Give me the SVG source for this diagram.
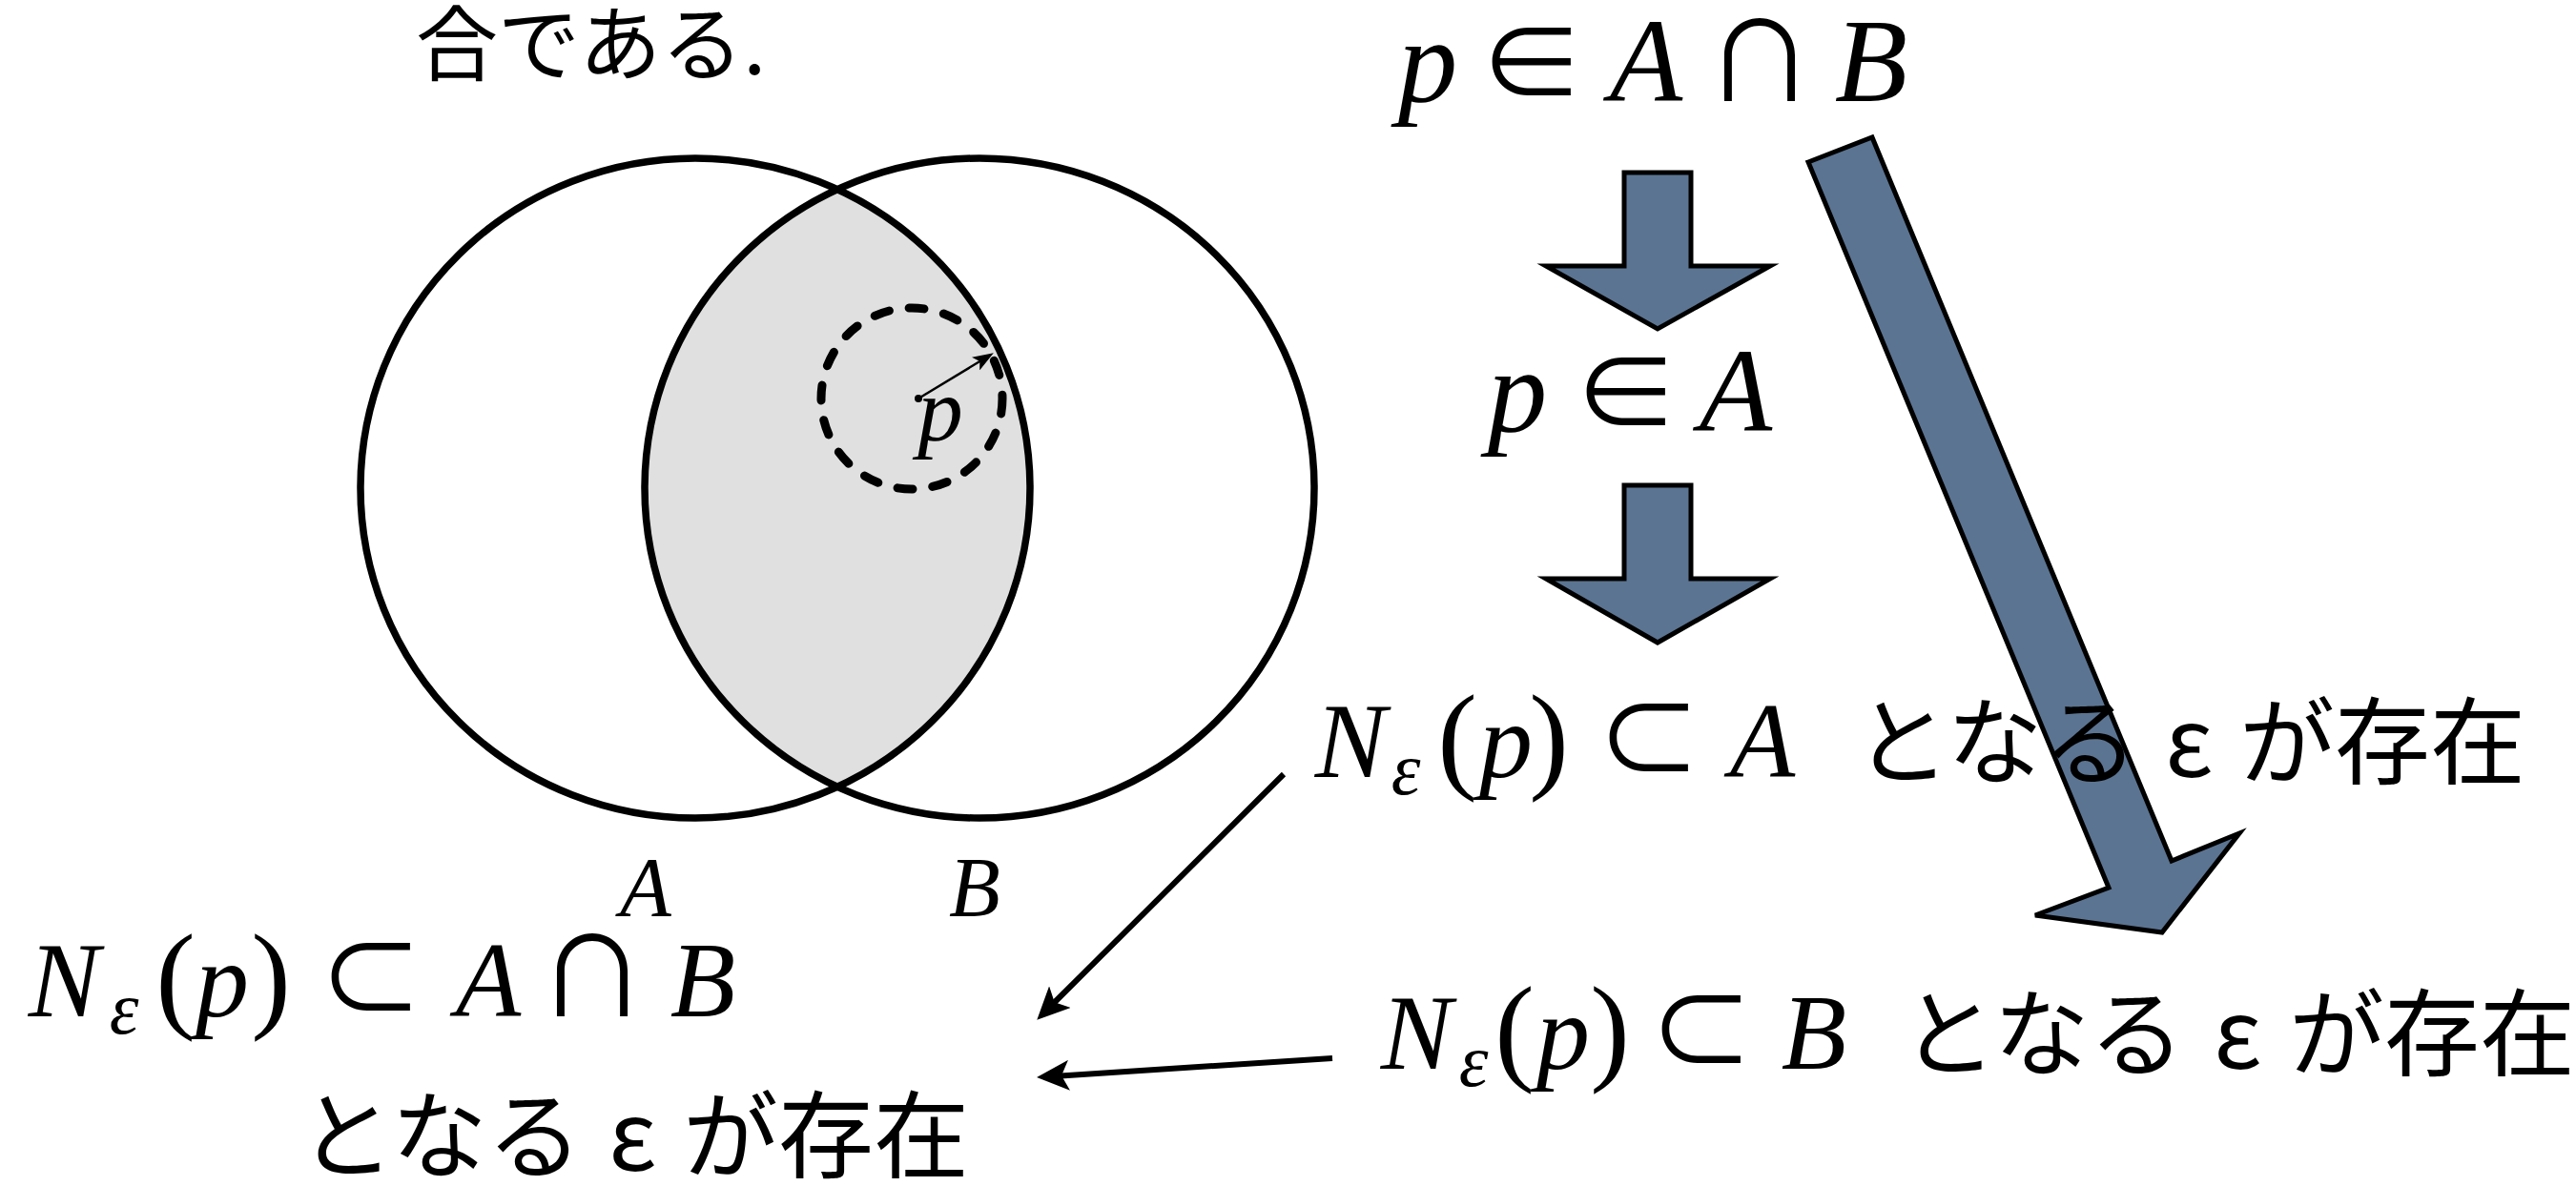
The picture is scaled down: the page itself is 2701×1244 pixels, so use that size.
<svg xmlns="http://www.w3.org/2000/svg" width="2701" height="1244" viewBox="0 0 2701 1244">
<style>
.m{font-family:"Liberation Serif","Times New Roman",serif;font-style:italic;text-anchor:middle;fill:#000}
.r{font-family:"Liberation Serif","Times New Roman",serif;text-anchor:middle;fill:#000}
.s{font-family:"Noto Sans CJK JP","DejaVu Sans",sans-serif;text-anchor:middle;fill:#000}
.jp{font-family:"Noto Sans CJK JP","Noto Sans",sans-serif;fill:#000}
.jm{font-family:"Noto Sans CJK JP","Noto Sans",sans-serif;text-anchor:middle;fill:#000}
.venn{fill:none;stroke:#000;stroke-width:7.5}
.block{fill:#5B7492;stroke:#000;stroke-width:5;stroke-linejoin:miter}
.thin{fill:none;stroke:#000;stroke-width:6}
</style>
<defs>
<clipPath id="clipA"><ellipse cx="729" cy="512" rx="351" ry="346"/></clipPath>
<marker id="ah" markerUnits="userSpaceOnUse" viewBox="0 0 34 32" markerWidth="34" markerHeight="32" refX="9" refY="16" orient="auto"><path d="M0,0 L34,16 L0,32 L8,16 Z" fill="#000"/></marker>
<marker id="ahs" markerUnits="userSpaceOnUse" viewBox="0 0 22 16" markerWidth="22" markerHeight="16" refX="7" refY="8" orient="auto"><path d="M0,0 L22,8 L0,16 L5,8 Z" fill="#000"/></marker>
</defs>
<rect width="2701" height="1244" fill="#fff"/>

<g id="title"><text class="jp" x="436" y="78" font-size="86">合である.</text></g>

<g id="venn">
<ellipse cx="1027" cy="512" rx="351" ry="346" fill="#E0E0E0" clip-path="url(#clipA)"/>
<ellipse class="venn" cx="729" cy="512" rx="351" ry="346"/>
<ellipse class="venn" cx="1027" cy="512" rx="351" ry="346"/>
<circle cx="956" cy="418" r="95" fill="none" stroke="#000" stroke-width="9" stroke-dasharray="16 21" stroke-linecap="round"/>
<line x1="963" y1="418" x2="1029" y2="378" stroke="#000" stroke-width="2.5" marker-end="url(#ahs)"/>
<circle cx="963" cy="418" r="4" fill="#000"/>
<text class="m" x="986" y="462" font-size="95">p</text>
</g>
<g id="label-A"><text class="m" x="677" y="960" font-size="88">A</text></g>
<g id="label-B"><text class="m" x="1022" y="960" font-size="88">B</text></g>

<g id="connectors">
<polygon class="block" points="1703,181 1773,181 1773,279 1856,279 1738,345 1621,279 1703,279"/>
<polygon class="block" points="1703,509 1773,509 1773,607 1856,607 1738,674 1621,607 1703,607"/>
<polygon class="block" points="1896,170 1963,144 2277,903 2348,874 2267,978 2134,960 2211,931"/>
<line class="thin" x1="1346" y1="812" x2="1105" y2="1052" marker-end="url(#ah)"/>
<line class="thin" x1="1397" y1="1110" x2="1112" y2="1128.4" marker-end="url(#ah)"/>
</g>

<g id="expr-top" font-size="125">
<text class="m" x="1497" y="106">p</text>
<text class="s" x="1606" y="106" font-size="110">∈</text>
<text class="m" x="1726" y="106">A</text>
<text class="s" x="1845" y="106" font-size="115">∩</text>
<text class="m" x="1962" y="106">B</text>
</g>

<g id="expr-pA" font-size="125">
<text class="m" x="1591" y="452">p</text>
<text class="s" x="1705" y="452" font-size="110">∈</text>
<text class="m" x="1820" y="452">A</text>
</g>

<g id="expr-NA" font-size="112">
<text class="m" x="1416" y="815">N</text>
<text class="m" x="1474" y="833" font-size="78">ε</text>
<text class="r" x="1528" y="815" font-size="125">(</text>
<text class="m" x="1579" y="815">p</text>
<text class="r" x="1624" y="815" font-size="125">)</text>
<text class="s" x="1729" y="815" font-size="110">⊂</text>
<text class="m" x="1848" y="815">A</text>
<text class="jm" x="2093" y="815" font-size="100">となる</text>
<text class="jm" x="2295" y="815" font-size="100">ε</text>
<text class="jm" x="2498" y="815" font-size="100">が存在</text>
</g>

<g id="expr-NB" font-size="112">
<text class="m" x="1485" y="1121">N</text>
<text class="m" x="1545" y="1139" font-size="78">ε</text>
<text class="r" x="1588" y="1121" font-size="125">(</text>
<text class="m" x="1639" y="1121">p</text>
<text class="r" x="1688" y="1121" font-size="125">)</text>
<text class="s" x="1784" y="1121" font-size="110">⊂</text>
<text class="m" x="1902" y="1121">B</text>
<text class="jm" x="2142" y="1121" font-size="100">となる</text>
<text class="jm" x="2346" y="1121" font-size="100">ε</text>
<text class="jm" x="2550" y="1121" font-size="100">が存在</text>
</g>

<g id="expr-NAB" font-size="112">
<text class="m" x="67" y="1066">N</text>
<text class="m" x="130" y="1084" font-size="78">ε</text>
<text class="r" x="184" y="1066" font-size="125">(</text>
<text class="m" x="233" y="1066">p</text>
<text class="r" x="284" y="1066" font-size="125">)</text>
<text class="s" x="389" y="1066" font-size="110">⊂</text>
<text class="m" x="512" y="1066">A</text>
<text class="s" x="621" y="1066" font-size="115">∩</text>
<text class="m" x="737" y="1066">B</text>
</g>

<g id="expr-exists">
<text class="jm" x="462" y="1228" font-size="100">となる</text>
<text class="jm" x="663" y="1228" font-size="100">ε</text>
<text class="jm" x="866" y="1228" font-size="100">が存在</text>
</g>
</svg>
